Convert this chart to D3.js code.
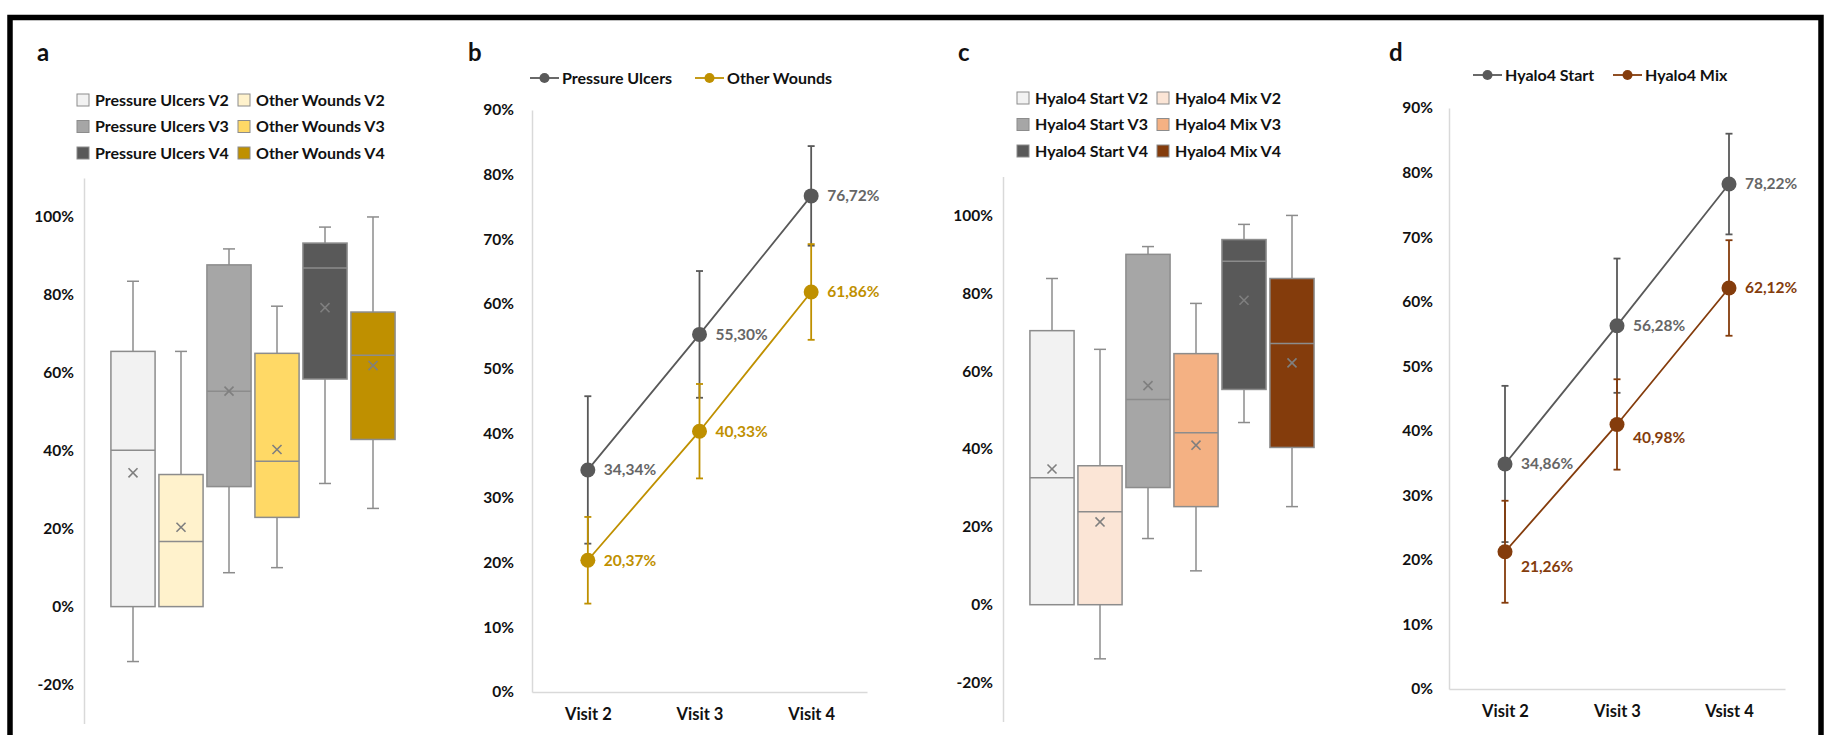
<!DOCTYPE html>
<html>
<head>
<meta charset="utf-8">
<script src="https://cdn.jsdelivr.net/npm/d3@7"></script>
<style>
  body { margin: 0; background: #fff; }
  svg { display: block; font-family: Lato, "Open Sans", sans-serif; font-weight: 700; }
</style>
</head>
<body>
<svg id="chart" width="1824" height="735"></svg>
<script>
// panel a: wound type box plots
var woundBoxes  = ["Pressure Ulcers V2", "Other Wounds V2", "Pressure Ulcers V3", "Other Wounds V3", "Pressure Ulcers V4", "Other Wounds V4"];
var woundMin    = [-0.141, 0.000, 0.087, 0.100, 0.316, 0.252];
var woundQ1     = [0.000, 0.000, 0.308, 0.229, 0.584, 0.429];
var woundMedian = [0.401, 0.167, 0.553, 0.373, 0.869, 0.645];
var woundQ3     = [0.655, 0.339, 0.877, 0.650, 0.933, 0.756];
var woundMax    = [0.835, 0.655, 0.918, 0.771, 0.974, 1.000];
var woundMean   = [0.3434, 0.2037, 0.5530, 0.4033, 0.7672, 0.6186];

// panel c: Hyalo4 box plots
var hyaloBoxes  = ["Hyalo4 Start V2", "Hyalo4 Mix V2", "Hyalo4 Start V3", "Hyalo4 Mix V3", "Hyalo4 Start V4", "Hyalo4 Mix V4"];
var hyaloMin    = [0.000, -0.139, 0.170, 0.087, 0.468, 0.252];
var hyaloQ1     = [0.000, 0.000, 0.301, 0.252, 0.553, 0.404];
var hyaloMedian = [0.326, 0.239, 0.527, 0.442, 0.882, 0.671];
var hyaloQ3     = [0.704, 0.357, 0.900, 0.645, 0.938, 0.838];
var hyaloMax    = [0.838, 0.656, 0.920, 0.774, 0.977, 1.000];
var hyaloMean   = [0.3486, 0.2126, 0.5628, 0.4098, 0.7822, 0.6212];

var boxTicks = [-0.2, 0, 0.2, 0.4, 0.6, 0.8, 1.0];

// panels b and d: means with error bars
var visitsB = ["Visit 2", "Visit 3", "Visit 4"];
var visitsD = ["Visit 2", "Visit 3", "Vsist 4"];
var pressureMean = [0.3434, 0.5530, 0.7672];
var pressureErr  = [0.114, 0.098, 0.077];
var otherMean    = [0.2037, 0.4033, 0.6186];
var otherErr     = [0.067, 0.073, 0.074];
var startMean    = [0.3486, 0.5628, 0.7822];
var startErr     = [0.121, 0.104, 0.078];
var mixMean      = [0.2126, 0.4098, 0.6212];
var mixErr       = [0.079, 0.070, 0.074];

var lineTicks = [0, 0.1, 0.2, 0.3, 0.4, 0.5, 0.6, 0.7, 0.8, 0.9];

var woundColors = ["#f2f2f2", "#fff2cc", "#a6a6a6", "#ffd966", "#595959", "#bf9000"];
var hyaloColors = ["#f2f2f2", "#fbe5d6", "#a6a6a6", "#f4b183", "#595959", "#843c0c"];

var svg = d3.select('#chart');
var pct = function(d) { return Math.round(d * 100) + '%'; };
var comma = d3.formatLocale({decimal: ',', thousands: '.', grouping: [3], currency: ['', '']}).format('.2%');
var boxStroke = '#8c8c8c';

svg.append('rect')
  .attr('x', 10).attr('y', 17.5)
  .attr('width', 1811).attr('height', 800)
  .attr('fill', 'none').attr('stroke', '#000').attr('stroke-width', 5.5);

function panelLetter(txt, x) {
  svg.append('text').attr('x', x).attr('y', 61)
    .attr('font-size', 24).attr('fill', '#111').text(txt);
}

function styleAxis(g, size) {
  g.select('.domain').attr('stroke', '#d9d9d9').attr('stroke-width', 1.5);
  g.selectAll('.tick text').attr('font-size', size).attr('fill', '#111')
    .attr('font-family', 'Lato, sans-serif').attr('font-weight', 700);
}

function drawBoxPanel(cfg) {
  panelLetter(cfg.letter, cfg.letterX);

  var y = d3.scaleLinear().domain([-0.3, 1.1]).range([cfg.yBottom, cfg.yTop]);
  var x = d3.scaleBand().domain(cfg.names)
    .range([cfg.axisX + 25, cfg.axisX + 313])
    .paddingInner(0.08).paddingOuter(0.04);

  var ax = svg.append('g').attr('transform', 'translate(' + cfg.axisX + ',0)')
    .call(d3.axisLeft(y).tickValues(boxTicks).tickSize(0).tickSizeOuter(0).tickPadding(10).tickFormat(pct));
  styleAxis(ax, 15.5);

  var g = svg.append('g');
  cfg.names.forEach(function(name, i) {
    var cx = x(name) + x.bandwidth() / 2;
    var w = g.append('g').attr('stroke', boxStroke).attr('stroke-width', 1.5);
    // whiskers
    w.append('line').attr('x1', cx).attr('x2', cx).attr('y1', y(cfg.max[i])).attr('y2', y(cfg.q3[i]));
    w.append('line').attr('x1', cx).attr('x2', cx).attr('y1', y(cfg.q1[i])).attr('y2', y(cfg.min[i]));
    if (cfg.max[i] > cfg.q3[i])
      w.append('line').attr('x1', cx - 6).attr('x2', cx + 6).attr('y1', y(cfg.max[i])).attr('y2', y(cfg.max[i]));
    if (cfg.min[i] < cfg.q1[i])
      w.append('line').attr('x1', cx - 6).attr('x2', cx + 6).attr('y1', y(cfg.min[i])).attr('y2', y(cfg.min[i]));
    // box
    w.append('rect')
      .attr('x', x(name)).attr('width', x.bandwidth())
      .attr('y', y(cfg.q3[i])).attr('height', y(cfg.q1[i]) - y(cfg.q3[i]))
      .attr('fill', cfg.colors[i]);
    w.append('line').attr('x1', x(name)).attr('x2', x(name) + x.bandwidth())
      .attr('y1', y(cfg.median[i])).attr('y2', y(cfg.median[i]));
    // mean marker
    g.append('path')
      .attr('d', d3.symbol(d3.symbolX, 55)())
      .attr('transform', 'translate(' + cx + ',' + y(cfg.mean[i]) + ')')
      .attr('fill', 'none').attr('stroke', '#7f7f7f').attr('stroke-width', 1.6);
  });

  // legend, two columns
  var leg = svg.append('g');
  cfg.names.forEach(function(name, i) {
    var lx = cfg.legendX + (i % 2) * cfg.legendGap;
    var ly = cfg.legendY + Math.floor(i / 2) * 26.5;
    leg.append('rect').attr('x', lx).attr('y', ly - 6).attr('width', 12).attr('height', 12)
      .attr('fill', cfg.colors[i]).attr('stroke', boxStroke).attr('stroke-width', 1);
    leg.append('text').attr('x', lx + 18).attr('y', ly).attr('dy', '0.35em')
      .attr('font-size', 16).attr('fill', '#111').text(name);
  });
}

function drawLinePanel(cfg) {
  panelLetter(cfg.letter, cfg.letterX);

  var y = d3.scaleLinear().domain([0, 0.9]).range([cfg.yBottom, cfg.yTop]);
  var x = d3.scalePoint().domain(cfg.visits).range([cfg.axisX, cfg.axisRight]).padding(0.5);

  var ay = svg.append('g').attr('transform', 'translate(' + cfg.axisX + ',0)')
    .call(d3.axisLeft(y).tickValues(lineTicks).tickSize(0).tickSizeOuter(0).tickPadding(cfg.tickPad).tickFormat(pct));
  styleAxis(ay, 15.5);
  var axx = svg.append('g').attr('transform', 'translate(0,' + cfg.yBottom + ')')
    .call(d3.axisBottom(x).tickSize(0).tickSizeOuter(0).tickPadding(16));
  styleAxis(axx, 16.5);

  var line = d3.line().x(function(d, i) { return x(cfg.visits[i]); }).y(function(d) { return y(d); });

  cfg.series.forEach(function(s) {
    var g = svg.append('g');
    g.append('path').datum(s.mean).attr('d', line)
      .attr('fill', 'none').attr('stroke', s.color).attr('stroke-width', 1.8);
    s.mean.forEach(function(m, i) {
      var px = x(cfg.visits[i]);
      var top = y(m + s.err[i]), bot = y(m - s.err[i]);
      g.append('line').attr('x1', px).attr('x2', px).attr('y1', top).attr('y2', bot)
        .attr('stroke', s.color).attr('stroke-width', 1.8);
      [top, bot].forEach(function(cy) {
        g.append('line').attr('x1', px - 3.5).attr('x2', px + 3.5).attr('y1', cy).attr('y2', cy)
          .attr('stroke', s.color).attr('stroke-width', 1.8);
      });
    });
    g.selectAll('circle').data(s.mean).enter().append('circle')
      .attr('cx', function(d, i) { return x(cfg.visits[i]); })
      .attr('cy', function(d) { return y(d); })
      .attr('r', 7.5).attr('fill', s.color);
    g.selectAll('text.lbl').data(s.mean).enter().append('text')
      .attr('class', 'lbl')
      .attr('x', function(d, i) { return x(cfg.visits[i]) + 16; })
      .attr('y', function(d, i) { return y(d) + (s.labelShift ? s.labelShift[i] : 0); })
      .attr('dy', '0.35em').attr('font-size', 15.5).attr('fill', s.textColor || s.color)
      .text(comma);
  });

  // legend
  cfg.series.forEach(function(s, i) {
    var lx = cfg.legendX[i], ly = cfg.legendY;
    svg.append('line').attr('x1', lx).attr('x2', lx + 29).attr('y1', ly).attr('y2', ly)
      .attr('stroke', s.color).attr('stroke-width', 1.8);
    svg.append('circle').attr('cx', lx + 14.5).attr('cy', ly).attr('r', 5).attr('fill', s.color);
    svg.append('text').attr('x', lx + 32).attr('y', ly).attr('dy', '0.35em')
      .attr('font-size', 16).attr('fill', '#111').text(s.name);
  });
}

drawBoxPanel({
  letter: 'a', letterX: 37, axisX: 84, yTop: 178, yBottom: 723.5,
  names: woundBoxes, min: woundMin, q1: woundQ1, median: woundMedian, q3: woundQ3, max: woundMax, mean: woundMean,
  colors: woundColors, legendX: 77, legendY: 100, legendGap: 161
});

drawLinePanel({
  letter: 'b', letterX: 468, axisX: 532, axisRight: 867, yTop: 110, yBottom: 692, tickPad: 18,
  visits: visitsB, legendX: [530, 695], legendY: 78,
  series: [
    {name: 'Pressure Ulcers', mean: pressureMean, err: pressureErr, color: '#595959', textColor: '#666'},
    {name: 'Other Wounds', mean: otherMean, err: otherErr, color: '#bf9000'}
  ]
});

drawBoxPanel({
  letter: 'c', letterX: 958, axisX: 1003, yTop: 176.5, yBottom: 721.5,
  names: hyaloBoxes, min: hyaloMin, q1: hyaloQ1, median: hyaloMedian, q3: hyaloQ3, max: hyaloMax, mean: hyaloMean,
  colors: hyaloColors, legendX: 1017, legendY: 98, legendGap: 140
});

drawLinePanel({
  letter: 'd', letterX: 1389, axisX: 1449, axisRight: 1785, yTop: 108, yBottom: 689, tickPad: 16,
  visits: visitsD, legendX: [1473, 1613], legendY: 75,
  series: [
    {name: 'Hyalo4 Start', mean: startMean, err: startErr, color: '#595959', textColor: '#666'},
    {name: 'Hyalo4 Mix', mean: mixMean, err: mixErr, color: '#843c0c', labelShift: [15, 13, 0]}
  ]
});
</script>
</body>
</html>
